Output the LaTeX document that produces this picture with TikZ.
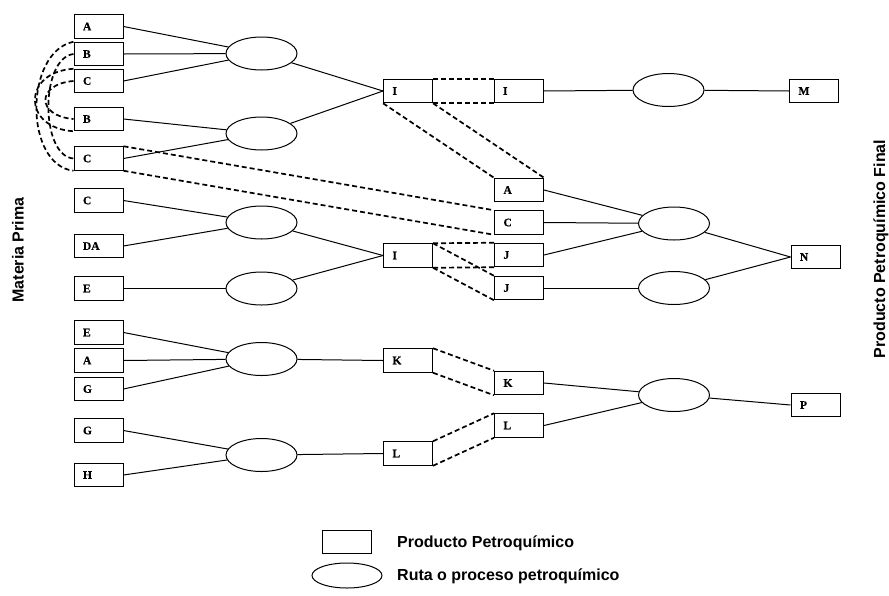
\documentclass[tikz,border=0pt]{standalone}
\usepackage{fontspec}
\setmainfont{Liberation Serif}
\newfontfamily\boxfont{Liberation Serif Bold}[FakeBold=0.6]
\newfontfamily\headfont{Liberation Sans Bold}
\usetikzlibrary{shapes.geometric}
\begin{document}
\begin{tikzpicture}[x=1pt,y=-1pt,
  prod/.style={draw, line width=1pt, rectangle, minimum height=23.5pt,
    text width=31pt, inner xsep=9pt, inner ysep=0pt, align=left,
    font=\boxfont\fontsize{11.5}{12}\selectfont},
  ruta/.style={draw, line width=1pt, ellipse, minimum width=71pt,
    minimum height=33pt, inner sep=0pt},
  link/.style={line width=1pt},
  alt/.style={line width=1.7pt, dash pattern=on 5pt off 3pt},
  head/.style={font=\headfont\fontsize{16}{18}\selectfont}]
\useasboundingbox (0,0) rectangle (889,595);

% raw materials
\node[prod] (a1) at (98.5,26.5) {A};
\node[prod] (b1) at (98.5,54) {B};
\node[prod] (c1) at (98.5,81) {C};
\node[prod] (b2) at (98.5,119) {B};
\node[prod] (c2) at (98.5,158.5) {C};
\node[prod] (c3) at (98.5,200.5) {C};
\node[prod] (da) at (98.5,246) {DA};
\node[prod] (e1) at (98.5,288.5) {E};
\node[prod] (e2) at (98.5,332.5) {E};
\node[prod] (a2) at (98.5,360.5) {A};
\node[prod] (g1) at (98.5,389) {G};
\node[prod] (g2) at (98.5,430.5) {G};
\node[prod] (h1) at (98.5,475) {H};

% first routes
\node[ruta] (r1) at (261.5,53.5) {};
\node[ruta] (r2) at (261.5,133.5) {};
\node[ruta] (r3) at (261.5,222.5) {};
\node[ruta] (r4) at (261.5,288.5) {};
\node[ruta] (r5) at (261.5,359) {};
\node[ruta] (r6) at (261.5,455) {};

% intermediates
\node[prod] (i1) at (408,91) {I};
\node[prod] (i2) at (408,255.5) {I};
\node[prod] (k1) at (408,360.5) {K};
\node[prod] (l1) at (408,453.5) {L};

\node[prod] (i3) at (518.5,91) {I};
\node[prod] (a3) at (519,190) {A};
\node[prod] (c4) at (519,222.5) {C};
\node[prod] (j1) at (519,255) {J};
\node[prod] (j2) at (519,288) {J};
\node[prod] (k2) at (519,383) {K};
\node[prod] (l2) at (519,425.5) {L};

% second routes
\node[ruta] (rm) at (668.5,90) {};
\node[ruta] (rn1) at (674,223.5) {};
\node[ruta] (rn2) at (674,288) {};
\node[ruta] (rp) at (674,395) {};

% final products
\node[prod] (m) at (814,91) {M};
\node[prod] (n) at (815.5,257) {N};
\node[prod] (p) at (815.5,405) {P};

% side titles
\node[head, rotate=90] (mp) at (18,250) {Materia Prima};
\node[head, rotate=90] (pf) at (881,249) {Producto Petroquímico Final};

% solid connections
\draw[link] (a1.east) -- (r1);
\draw[link] (b1.east) -- (r1);
\draw[link] (c1.east) -- (r1);
\draw[link] (b2.east) -- (r2);
\draw[link] (c2.east) -- (r2);
\draw[link] (c3.east) -- (r3);
\draw[link] (da.east) -- (r3);
\draw[link] (e1.east) -- (r4);
\draw[link] (e2.east) -- (r5);
\draw[link] (a2.east) -- (r5);
\draw[link] (g1.east) -- (r5);
\draw[link] (g2.east) -- (r6);
\draw[link] (h1.east) -- (r6);

\draw[link] (r1) -- (i1.west);
\draw[link] (r2) -- (i1.west);
\draw[link] (r3) -- (i2.west);
\draw[link] (r4) -- (i2.west);
\draw[link] (r5) -- (k1.west);
\draw[link] (r6) -- (l1.west);

\draw[link] (i3.east) -- (rm);
\draw[link] (rm) -- (m.west);
\draw[link] (a3.east) -- (rn1);
\draw[link] (c4.east) -- (rn1);
\draw[link] (j1.east) -- (rn1);
\draw[link] (j2.east) -- (rn2);
\draw[link] (rn1) -- (n.west);
\draw[link] (rn2) -- (n.west);
\draw[link] (k2.east) -- (rp);
\draw[link] (l2.east) -- (rp);
\draw[link] (rp) -- (p.west);

% same product carried over
\draw[alt] (i1.north east) -- (i3.north west);
\draw[alt] (i1.south east) -- (i3.south west);
\draw[alt] (i1.south west) -- (a3.north west);
\draw[alt] (i1.south east) -- (a3.north east);
\draw[alt] (c2.north east) -- (c4.north west);
\draw[alt] (c2.south east) -- (c4.south west);
\draw[alt] (i2.north east) -- (j1.north west);
\draw[alt] (i2.south east) -- (j1.south west);
\draw[alt] (i2.north east) -- (j2.north west);
\draw[alt] (i2.south east) -- (j2.south west);
\draw[alt] (k1.north east) -- (k2.north west);
\draw[alt] (k1.south east) -- (k2.south west);
\draw[alt] (l1.north east) -- (l2.north west);
\draw[alt] (l1.south east) -- (l2.south west);

% repeated raw materials
\draw[alt] (b1.north west) .. controls (24,52) and (24,165) .. (c2.south west);
\draw[alt] (b1.west) .. controls (40,58) and (40,156) .. (c2.west);
\draw[alt] (c1.north west) .. controls (22,72) and (22,128) .. (b2.south west);
\draw[alt] (c1.west) .. controls (36,84) and (36,116) .. (b2.west);

% legend
\node[draw, line width=1pt, minimum width=49pt, minimum height=23pt, inner sep=0pt] (lgp) at (346.5,541.5) {};
\node[draw, line width=1pt, ellipse, minimum width=70pt, minimum height=25pt, inner sep=0pt] (lgr) at (347,575.5) {};
\node[head, anchor=west, inner sep=0pt] (lgpt) at (397,543) {Producto Petroquímico};
\node[head, anchor=west, inner sep=0pt] (lgrt) at (397,576) {Ruta o proceso petroquímico};
\end{tikzpicture}
\end{document}
